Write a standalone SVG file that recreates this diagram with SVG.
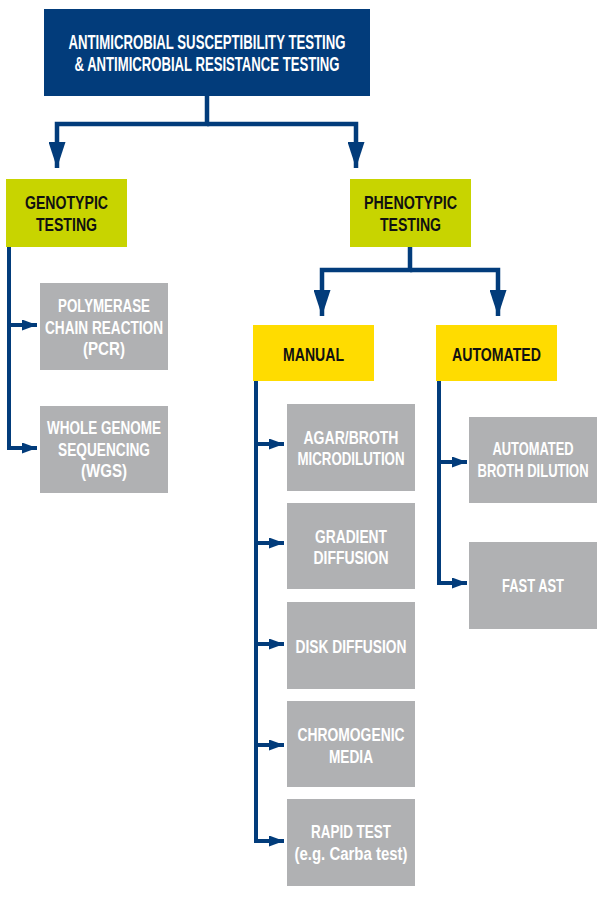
<svg xmlns="http://www.w3.org/2000/svg" width="602" height="917" viewBox="0 0 602 917">
<defs>
<style>
.t{font-family:"Liberation Sans",Arial,sans-serif;font-weight:bold;font-size:18px;text-anchor:middle}
.w{fill:#ffffff}
.k{fill:#111111}
.root{fill:#023C7B}
.green{fill:#C8D400}
.yellow{fill:#FFDC00}
.grey{fill:#B0B1B3}
.c{fill:none;stroke:#023C7B;stroke-width:4.5;stroke-linejoin:miter}
.c2{fill:none;stroke:#023C7B;stroke-width:4;stroke-linejoin:miter}
</style>
<marker id="big" viewBox="0 -8.5 26 17" refX="26" refY="0" markerWidth="26" markerHeight="17" markerUnits="userSpaceOnUse" orient="auto">
<path d="M0,-8.5 L26,0 L0,8.5 z" fill="#023C7B"/>
</marker>
<marker id="small" viewBox="0 -5.5 15 11" refX="15" refY="0" markerWidth="15" markerHeight="11" markerUnits="userSpaceOnUse" orient="auto">
<path d="M0,-5.5 L15,0 L0,5.5 z" fill="#023C7B"/>
</marker>
</defs>
<rect width="602" height="917" fill="#ffffff"/>

<g id="connectors">
<path class="c" d="M207,96 V124 H57 V168" marker-end="url(#big)"/>
<path class="c" d="M207,124 H356 V168" marker-end="url(#big)"/>
<path class="c2" d="M9,247 V448 H37" marker-end="url(#small)"/>
<path class="c2" d="M9,325 H37" marker-end="url(#small)"/>
<path class="c" d="M410,247 V270 H322 V316" marker-end="url(#big)"/>
<path class="c" d="M410,270 H498 V316" marker-end="url(#big)"/>
<path class="c2" d="M256,381 V841 H284" marker-end="url(#small)"/>
<path class="c2" d="M256,444 H284" marker-end="url(#small)"/>
<path class="c2" d="M256,543 H284" marker-end="url(#small)"/>
<path class="c2" d="M256,644 H284" marker-end="url(#small)"/>
<path class="c2" d="M256,745 H284" marker-end="url(#small)"/>
<path class="c2" d="M439,381 V583 H467" marker-end="url(#small)"/>
<path class="c2" d="M439,462 H467" marker-end="url(#small)"/>
</g>

<g id="root">
<rect class="root" x="44" y="9" width="326" height="87"/>
<text class="t w" style="font-size:19.5px" x="207" y="49" textLength="277" lengthAdjust="spacingAndGlyphs">ANTIMICROBIAL SUSCEPTIBILITY TESTING</text>
<text class="t w" style="font-size:19.5px" x="207" y="71" textLength="265" lengthAdjust="spacingAndGlyphs">&amp; ANTIMICROBIAL RESISTANCE TESTING</text>
</g>

<g id="genotypic">
<rect class="green" x="6" y="179" width="121" height="68"/>
<text class="t k" x="66.5" y="209" textLength="83" lengthAdjust="spacingAndGlyphs">GENOTYPIC</text>
<text class="t k" x="66.5" y="231" textLength="61" lengthAdjust="spacingAndGlyphs">TESTING</text>
</g>

<g id="phenotypic">
<rect class="green" x="350" y="179" width="121" height="68"/>
<text class="t k" x="410.5" y="209" textLength="93" lengthAdjust="spacingAndGlyphs">PHENOTYPIC</text>
<text class="t k" x="410.5" y="231" textLength="61" lengthAdjust="spacingAndGlyphs">TESTING</text>
</g>

<g id="pcr">
<rect class="grey" x="40" y="283" width="128" height="87"/>
<text class="t w" x="104" y="312" textLength="92" lengthAdjust="spacingAndGlyphs">POLYMERASE</text>
<text class="t w" x="104" y="334" textLength="118" lengthAdjust="spacingAndGlyphs">CHAIN REACTION</text>
<text class="t w" x="104" y="355" textLength="42" lengthAdjust="spacingAndGlyphs">(PCR)</text>
</g>

<g id="wgs">
<rect class="grey" x="40" y="406" width="128" height="87"/>
<text class="t w" x="104" y="434" textLength="114" lengthAdjust="spacingAndGlyphs">WHOLE GENOME</text>
<text class="t w" x="104" y="456" textLength="92" lengthAdjust="spacingAndGlyphs">SEQUENCING</text>
<text class="t w" x="104" y="477" textLength="46" lengthAdjust="spacingAndGlyphs">(WGS)</text>
</g>

<g id="manual">
<rect class="yellow" x="253" y="325" width="121" height="56"/>
<text class="t k" x="313.5" y="361" textLength="61" lengthAdjust="spacingAndGlyphs">MANUAL</text>
</g>

<g id="automated">
<rect class="yellow" x="436" y="325" width="121" height="56"/>
<text class="t k" x="496.5" y="361" textLength="89" lengthAdjust="spacingAndGlyphs">AUTOMATED</text>
</g>

<g id="agar">
<rect class="grey" x="287" y="404" width="128" height="87"/>
<text class="t w" x="351" y="444" textLength="95" lengthAdjust="spacingAndGlyphs">AGAR/BROTH</text>
<text class="t w" x="351" y="465" textLength="107" lengthAdjust="spacingAndGlyphs">MICRODILUTION</text>
</g>

<g id="gradient">
<rect class="grey" x="287" y="503" width="128" height="86"/>
<text class="t w" x="351" y="543" textLength="72" lengthAdjust="spacingAndGlyphs">GRADIENT</text>
<text class="t w" x="351" y="564" textLength="75" lengthAdjust="spacingAndGlyphs">DIFFUSION</text>
</g>

<g id="disk">
<rect class="grey" x="287" y="602" width="128" height="87"/>
<text class="t w" x="351" y="653" textLength="111" lengthAdjust="spacingAndGlyphs">DISK DIFFUSION</text>
</g>

<g id="chromogenic">
<rect class="grey" x="287" y="701" width="128" height="86"/>
<text class="t w" x="351" y="741" textLength="107" lengthAdjust="spacingAndGlyphs">CHROMOGENIC</text>
<text class="t w" x="351" y="763" textLength="44" lengthAdjust="spacingAndGlyphs">MEDIA</text>
</g>

<g id="rapid">
<rect class="grey" x="287" y="799" width="128" height="87"/>
<text class="t w" x="351" y="838" textLength="80" lengthAdjust="spacingAndGlyphs">RAPID TEST</text>
<text class="t w" x="351" y="860" textLength="113" lengthAdjust="spacingAndGlyphs">(e.g. Carba test)</text>
</g>

<g id="autobroth">
<rect class="grey" x="469" y="417" width="128" height="86"/>
<text class="t w" transform="translate(533,455) scale(0.8,1)" x="0" y="0" textLength="101.25" lengthAdjust="spacingAndGlyphs">AUTOMATED</text>
<text class="t w" transform="translate(533,477) scale(0.8,1)" x="0" y="0" textLength="138.75" lengthAdjust="spacingAndGlyphs">BROTH DILUTION</text>
</g>

<g id="fastast">
<rect class="grey" x="469" y="542" width="128" height="87"/>
<text class="t w" x="533" y="592" textLength="62" lengthAdjust="spacingAndGlyphs">FAST AST</text>
</g>
</svg>
